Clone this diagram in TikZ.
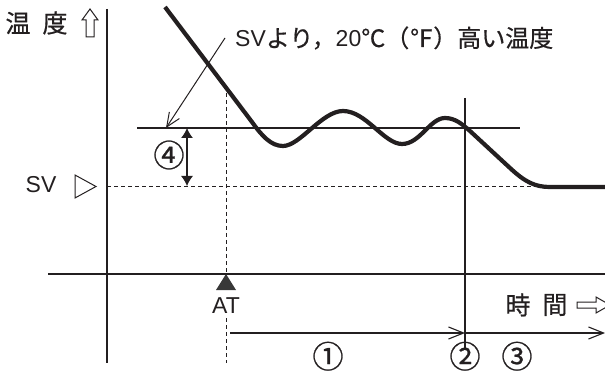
\documentclass[tikz,border=0pt]{standalone}
\usepackage{fontspec}
\setmainfont{Liberation Sans}
\newfontfamily\cjk[FakeBold=0.6]{Noto Sans CJK JP}
\newfontfamily\cjkcirc[FakeBold=0.8]{Noto Sans CJK JP}
\usetikzlibrary{arrows.meta}
\definecolor{ink}{HTML}{231F20}
\begin{document}
\begin{tikzpicture}[x=1pt,y=-1pt,color=ink,
  thinline/.style={line width=1.1pt},
  axisline/.style={line width=2.4pt},
  tempcurve/.style={line width=4.2pt,line join=round},
  dashline/.style={line width=1pt,dash pattern=on 4pt off 3pt},
  barb/.style={-{Straight Barb[length=15pt,width=12pt,line width=1.1pt]}},
  lbl/.style={inner sep=0pt,font=\fontsize{23}{26}\selectfont},
  jp/.style={inner sep=0pt,font=\cjk\fontsize{25}{28}\selectfont},
  circ/.style={inner sep=0pt,font=\cjkcirc\fontsize{31}{33}\selectfont}]
\useasboundingbox (0,0) rectangle (605,374);
% axes
\coordinate (ytop) at (107,9);
\coordinate (ybot) at (107,363);
\coordinate (xl) at (48,274);
\coordinate (xr) at (605,274);
\draw[axisline] (ytop) -- (ybot);
\draw[axisline] (xl) -- (xr);
% upper reference line (SV+20)
\coordinate (hl) at (137,128);
\coordinate (hr) at (520,128);
\draw[thinline] (hl) -- (hr);
% SV dashed line
\coordinate (sv0) at (107,187);
\coordinate (sv1) at (548,187);
\draw[dashline] (sv0) -- (sv1);
% AT dashed vertical
\coordinate (at0) at (226,93);
\coordinate (at1) at (226,274);
\coordinate (at2) at (226,318);
\coordinate (at3) at (226,363);
\draw[dashline] (at0) -- (at1);
\draw[dashline] (at2) -- (at3);
% vertical line at end of AT
\coordinate (v0) at (465,98);
\coordinate (v1) at (465,348);
\draw[thinline] (v0) -- (v1);
% time arrows
\coordinate (t0) at (230,333);
\coordinate (t1) at (465,333);
\coordinate (t2) at (605,333);
\draw[thinline,barb] (t0) -- (t1);
\draw[thinline,barb] (t1) -- (t2);
% leader arrow
\coordinate (ld0) at (225,38);
\coordinate (ld1) at (166,128);
\draw[line width=1pt,-{Straight Barb[length=14pt,width=12pt,line width=1pt]}] (ld0) -- (ld1);
% double arrow (4)
\coordinate (d0) at (187,128);
\coordinate (d1) at (187,186);
\draw[thinline,{Latex[length=10pt,width=12pt]}-{Latex[length=10pt,width=12pt]}] (d0) -- (d1);
% AT marker
\fill[black!78] (226,274) -- (236,290) -- (216,290) -- cycle;
% SV open triangle
\draw[line width=1pt,line join=miter] (75,175) -- (96,186.5) -- (75,198) -- cycle;
% up arrow symbol
\draw[line width=1pt,line join=miter] (90,9) -- (98,20) -- (94,20) -- (94,37) -- (86,37) -- (86,20) -- (82,20) -- cycle;
% right arrow symbol
\draw[line width=1pt,line join=miter] (577,302) -- (596,302) -- (596,297) -- (610,305) -- (596,313) -- (596,308) -- (577,308) -- cycle;
% temperature curve
\draw[tempcurve] (165,7) -- (252,122) .. controls (262,136) and (271,146) .. (283,146)
  .. controls (300,146) and (322,111) .. (343,111)
  .. controls (366,111) and (384,144) .. (402,144)
  .. controls (420,144) and (430,118) .. (445,118)
  .. controls (455,118) and (462,124) .. (470,131)
  -- (510,168) .. controls (525,182) and (535,187) .. (550,187) -- (605,187);
% texts
\node[jp] (wen) at (18,23) {温};
\node[jp] (du) at (55,23) {度};
\node[lbl,anchor=base west] (note) at (235,47) {SV{\cjk\fontsize{24}{28}\selectfont より，}20{\cjk\fontsize{24}{28}\selectfont ℃（℉）高い温度}};
\node[lbl] (svl) at (41,185) {SV};
\node[circ] (n4) at (169,155) {④};
\node[lbl] (atl) at (226,306) {AT};
\node[jp] (shi) at (518,305) {時};
\node[jp] (kan) at (555,305) {間};
\node[circ,text depth=0pt,anchor=base] (n1) at (328,368) {①};
\node[circ,text depth=0pt,anchor=base] (n2) at (465,368) {②};
\node[circ,text depth=0pt,anchor=base] (n3) at (517,368) {③};
\end{tikzpicture}
\end{document}
